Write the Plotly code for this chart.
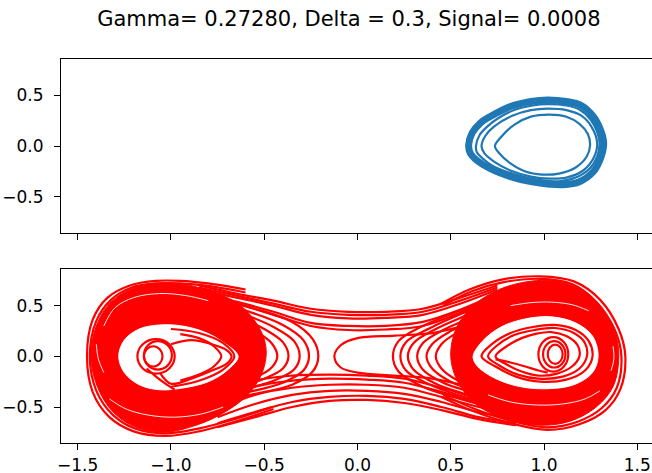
import plotly.graph_objects as go

TITLE = "Gamma= 0.27280, Delta = 0.3, Signal= 0.0008"
X_TICKS = [-1.5, -1.0, -0.5, 0.0, 0.5, 1.0, 1.5]
X_TICK_TEXT = ["\u22121.5", "\u22121.0", "\u22120.5", "0.0", "0.5", "1.0", "1.5"]
Y_TICKS = [-0.5, 0.0, 0.5]
Y_TICK_TEXT = ["\u22120.5", "0.0", "0.5"]

# ---------------- top panel (blue, single well) ----------------
blue_band_x = [0.596, 0.615, 0.66, 0.71, 0.82, 0.93, 1.02, 1.12, 1.20, 1.265, 1.305, 1.32, 1.305, 1.265, 1.19, 1.10, 1.03, 0.93, 0.82, 0.71, 0.64, 0.605, 0.596]
blue_band_y = [0.01, 0.13, 0.23, 0.29, 0.39, 0.44, 0.455, 0.44, 0.40, 0.29, 0.15, 0.03, -0.11, -0.25, -0.35, -0.38, -0.375, -0.35, -0.30, -0.22, -0.14, -0.07, 0.01]
blue_edge_x = [0.635, 0.655, 0.70, 0.75, 0.84, 0.94, 1.02, 1.12, 1.19, 1.25, 1.285, 1.298, 1.285, 1.245, 1.17, 1.09, 1.03, 0.93, 0.83, 0.73, 0.67, 0.64, 0.635]
blue_edge_y = [0.0, 0.11, 0.20, 0.27, 0.355, 0.40, 0.413, 0.40, 0.36, 0.26, 0.14, 0.02, -0.10, -0.22, -0.31, -0.345, -0.345, -0.32, -0.27, -0.20, -0.12, -0.06, 0.0]
blue_mid_x = [0.665, 0.685, 0.73, 0.83, 0.93, 1.02, 1.12, 1.20, 1.255, 1.285, 1.265, 1.21, 1.12, 1.03, 0.93, 0.82, 0.73, 0.68, 0.665]
blue_mid_y = [0.0, 0.10, 0.19, 0.30, 0.355, 0.37, 0.355, 0.30, 0.19, 0.03, -0.12, -0.24, -0.31, -0.32, -0.30, -0.24, -0.15, -0.07, 0.0]
blue_inner_x = [0.737, 0.77, 0.84, 0.93, 1.03, 1.12, 1.19, 1.235, 1.247, 1.23, 1.17, 1.08, 0.99, 0.90, 0.82, 0.76, 0.737]
blue_inner_y = [0.0, 0.09, 0.21, 0.29, 0.31, 0.29, 0.22, 0.12, 0.01, -0.10, -0.21, -0.27, -0.28, -0.25, -0.17, -0.07, 0.0]

# ---------------- bottom panel (red, double well) ----------------
# upper channel crossings (shared x positions)
upper_x = [-0.85, -0.65, -0.45, -0.25, -0.05, 0.15, 0.35, 0.55, 0.75]
upper_y = [
    [0.70, 0.62, 0.55, 0.47, 0.44, 0.44, 0.47, 0.58, 0.70],
    [0.68, 0.60, 0.52, 0.44, 0.41, 0.41, 0.44, 0.55, 0.68],
    [0.66, 0.58, 0.50, 0.41, 0.375, 0.38, 0.41, 0.52, 0.66],
    [0.62, 0.54, 0.44, 0.33, 0.30, 0.30, 0.34, 0.46, 0.62],
    [0.60, 0.52, 0.41, 0.30, 0.26, 0.265, 0.30, 0.43, 0.60],
]
# lower channel crossings (shared x positions)
lower_x = [0.85, 0.65, 0.45, 0.25, 0.05, -0.15, -0.35, -0.55, -0.75]
lower_y = [
    [-0.68, -0.62, -0.53, -0.46, -0.43, -0.44, -0.50, -0.60, -0.70],
    [-0.66, -0.60, -0.50, -0.42, -0.39, -0.40, -0.45, -0.55, -0.66],
    [-0.62, -0.55, -0.45, -0.37, -0.34, -0.34, -0.38, -0.47, -0.60],
    [-0.58, -0.50, -0.40, -0.31, -0.28, -0.28, -0.31, -0.38, -0.52],
    [-0.54, -0.46, -0.35, -0.26, -0.23, -0.22, -0.24, -0.30, -0.44],
    [-0.50, -0.42, -0.31, -0.22, -0.19, -0.18, -0.19, -0.24, -0.38],
]
# turning arcs right of the left well
left_turn_x = [
    [-0.75, -0.55, -0.35, -0.24, -0.21, -0.24, -0.35, -0.55, -0.75],
    [-0.75, -0.58, -0.40, -0.29, -0.26, -0.29, -0.40, -0.58, -0.75],
    [-0.75, -0.60, -0.45, -0.34, -0.31, -0.34, -0.45, -0.60, -0.75],
    [-0.78, -0.64, -0.50, -0.40, -0.37, -0.40, -0.50, -0.64, -0.78],
    [-0.80, -0.68, -0.55, -0.46, -0.43, -0.46, -0.55, -0.68, -0.80],
]
left_turn_y = [
    [0.56, 0.47, 0.34, 0.17, 0.0, -0.15, -0.28, -0.37, -0.45],
    [0.53, 0.44, 0.31, 0.16, 0.0, -0.14, -0.26, -0.35, -0.42],
    [0.50, 0.41, 0.29, 0.15, 0.0, -0.13, -0.24, -0.32, -0.40],
    [0.48, 0.39, 0.27, 0.14, 0.0, -0.12, -0.22, -0.30, -0.38],
    [0.45, 0.36, 0.25, 0.13, 0.0, -0.11, -0.21, -0.28, -0.36],
]
# turning arcs left of the right well
right_turn_x = [
    [0.75, 0.55, 0.35, 0.22, 0.19, 0.22, 0.35, 0.55, 0.75],
    [0.75, 0.57, 0.39, 0.26, 0.23, 0.26, 0.39, 0.57, 0.75],
    [0.75, 0.59, 0.42, 0.30, 0.27, 0.30, 0.42, 0.59, 0.75],
    [0.76, 0.62, 0.46, 0.35, 0.32, 0.35, 0.46, 0.62, 0.76],
    [0.78, 0.65, 0.50, 0.40, 0.37, 0.40, 0.50, 0.65, 0.78],
    [0.80, 0.68, 0.54, 0.45, 0.42, 0.45, 0.54, 0.68, 0.80],
]
right_turn_y = [
    [0.58, 0.45, 0.30, 0.15, 0.0, -0.15, -0.30, -0.42, -0.52],
    [0.56, 0.43, 0.28, 0.14, 0.0, -0.14, -0.28, -0.40, -0.50],
    [0.54, 0.41, 0.27, 0.13, 0.0, -0.13, -0.27, -0.38, -0.48],
    [0.52, 0.39, 0.26, 0.13, 0.0, -0.13, -0.26, -0.36, -0.46],
    [0.50, 0.38, 0.25, 0.12, 0.0, -0.12, -0.25, -0.35, -0.44],
    [0.48, 0.36, 0.24, 0.12, 0.0, -0.12, -0.24, -0.33, -0.42],
]
central_turn_x = [0.60, 0.40, 0.20, 0.0, -0.09, -0.124, -0.09, 0.0, 0.20, 0.40, 0.60]
central_turn_y = [0.32, 0.23, 0.205, 0.18, 0.11, 0.0, -0.11, -0.16, -0.19, -0.22, -0.30]

# outermost arcs of each well
left_outer_x = [
    [-0.60, -0.80, -0.95, -1.08, -1.22, -1.34, -1.42, -1.45, -1.42, -1.33, -1.20, -1.03, -0.85, -0.65, -0.45],
    [-0.60, -0.80, -0.95, -1.08, -1.21, -1.32, -1.40, -1.435, -1.40, -1.31, -1.19, -1.03, -0.86, -0.66, -0.46],
]
left_outer_y = [
    [0.66, 0.72, 0.745, 0.745, 0.70, 0.58, 0.36, 0.0, -0.35, -0.60, -0.74, -0.785, -0.74, -0.64, -0.52],
    [0.63, 0.695, 0.72, 0.72, 0.68, 0.56, 0.35, 0.0, -0.34, -0.58, -0.715, -0.76, -0.715, -0.62, -0.50],
]
right_outer_x = [
    [0.45, 0.60, 0.78, 0.98, 1.16, 1.30, 1.40, 1.436, 1.41, 1.33, 1.19, 1.02, 0.82, 0.62, 0.45],
    [0.46, 0.61, 0.79, 0.98, 1.15, 1.28, 1.38, 1.415, 1.39, 1.31, 1.18, 1.02, 0.83, 0.63, 0.46],
]
right_outer_y = [
    [0.52, 0.66, 0.76, 0.79, 0.74, 0.56, 0.27, 0.0, -0.32, -0.53, -0.67, -0.725, -0.66, -0.54, -0.40],
    [0.50, 0.64, 0.735, 0.765, 0.715, 0.54, 0.26, 0.0, -0.31, -0.51, -0.645, -0.70, -0.64, -0.52, -0.38],
]

# dense bands and empty cores
left_band_x = [-1.43, -1.40, -1.33, -1.22, -1.08, -0.93, -0.78, -0.64, -0.55, -0.50, -0.49, -0.52, -0.60, -0.74, -0.90, -1.04, -1.19, -1.31, -1.39, -1.43]
left_band_y = [0.0, 0.30, 0.52, 0.66, 0.72, 0.71, 0.64, 0.52, 0.35, 0.17, 0.0, -0.20, -0.40, -0.58, -0.70, -0.75, -0.70, -0.55, -0.32, 0.0]
left_hole_x = [-1.28, -1.25, -1.17, -1.06, -0.94, -0.82, -0.72, -0.64, -0.70, -0.80, -0.93, -1.06, -1.17, -1.25, -1.28]
left_hole_y = [0.0, 0.16, 0.27, 0.31, 0.30, 0.24, 0.14, 0.0, -0.14, -0.25, -0.31, -0.33, -0.28, -0.16, 0.0]
right_band_x = [0.50, 0.53, 0.62, 0.76, 0.92, 1.08, 1.22, 1.33, 1.39, 1.40, 1.37, 1.28, 1.14, 0.98, 0.80, 0.64, 0.54, 0.50]
right_band_y = [0.0, 0.28, 0.50, 0.66, 0.74, 0.74, 0.64, 0.42, 0.18, -0.05, -0.30, -0.50, -0.64, -0.68, -0.62, -0.48, -0.26, 0.0]
right_hole_x = [0.62, 0.67, 0.77, 0.90, 1.04, 1.17, 1.26, 1.29, 1.26, 1.16, 1.00, 0.85, 0.72, 0.64, 0.62]
right_hole_y = [0.0, 0.15, 0.29, 0.37, 0.39, 0.33, 0.20, 0.0, -0.16, -0.28, -0.32, -0.29, -0.20, -0.09, 0.0]

# thin empty streaks inside the dense bands
streak_x = [
    [-1.36, -1.30, -1.20, -1.06, -0.92, -0.80],
    [-1.33, -1.24, -1.12, -0.98, -0.84, -0.72],
    [-1.40, -1.39, -1.36],
    [0.82, 0.93, 1.04, 1.15, 1.24],
    [0.70, 0.82, 0.96, 1.10, 1.22, 1.30],
    [1.37, 1.375, 1.36],
]
streak_y = [
    [0.30, 0.48, 0.58, 0.62, 0.60, 0.55],
    [-0.42, -0.52, -0.58, -0.60, -0.57, -0.50],
    [0.12, -0.02, -0.16],
    [0.50, 0.53, 0.535, 0.51, 0.45],
    [-0.38, -0.45, -0.48, -0.47, -0.42, -0.34],
    [0.10, -0.02, -0.14],
]

# small orbits inside the left core
left_ring_x = [
    [-0.98, -1.009, -1.08, -1.151, -1.18, -1.151, -1.08, -1.009, -0.98],
    [-0.995, -1.017, -1.07, -1.123, -1.145, -1.123, -1.07, -1.017, -0.995],
    [-1.045, -1.06, -1.095, -1.13, -1.145, -1.13, -1.095, -1.06, -1.045],
]
left_ring_y = [
    [0.0, 0.12, 0.17, 0.12, 0.0, -0.12, -0.17, -0.12, 0.0],
    [0.01, 0.109, 0.15, 0.109, 0.01, -0.089, -0.13, -0.089, 0.01],
    [0.0, 0.07, 0.10, 0.07, 0.0, -0.07, -0.10, -0.07, 0.0],
]
left_loop_x = [
    [-1.00, -0.89, -0.78, -0.70, -0.675, -0.70, -0.78, -0.89, -1.00, -1.06],
    [-0.95, -0.85, -0.77, -0.73, -0.77, -0.85, -0.95],
    [-1.0, -0.85, -0.72, -0.66, -0.72, -0.85, -1.0],
    [-1.13, -1.08, -1.03, -0.98],
]
left_loop_y = [
    [0.12, 0.16, 0.12, 0.06, 0.0, -0.07, -0.14, -0.22, -0.27, -0.16],
    [0.22, 0.18, 0.10, 0.0, -0.10, -0.18, -0.24],
    [0.27, 0.23, 0.13, 0.0, -0.13, -0.24, -0.30],
    [-0.12, -0.20, -0.27, -0.33],
]
# small orbits inside the right core
right_ring_x = [
    [1.13, 1.107, 1.05, 0.993, 0.97, 0.993, 1.05, 1.107, 1.13],
    [1.115, 1.097, 1.055, 1.013, 0.995, 1.013, 1.055, 1.097, 1.115],
    [1.10, 1.088, 1.06, 1.032, 1.02, 1.032, 1.06, 1.088, 1.10],
]
right_ring_y = [
    [0.02, 0.14, 0.19, 0.14, 0.02, -0.10, -0.15, -0.10, 0.02],
    [0.02, 0.112, 0.15, 0.112, 0.02, -0.072, -0.11, -0.072, 0.02],
    [0.02, 0.087, 0.115, 0.087, 0.02, -0.047, -0.075, -0.047, 0.02],
]
right_loop_x = [
    [0.665, 0.72, 0.82, 0.94, 1.06, 1.17, 1.24, 1.26, 1.22, 1.12, 0.98, 0.85, 0.74, 0.665],
    [0.70, 0.75, 0.84, 0.95, 1.06, 1.16, 1.22, 1.23, 1.19, 1.10, 0.97, 0.86, 0.76, 0.70],
    [0.74, 0.80, 0.88, 0.96, 1.04, 1.12, 1.18, 1.19, 1.15, 1.07, 0.97, 0.88, 0.80, 0.74],
    [0.74, 0.82, 0.90, 0.97, 1.02],
]
right_loop_y = [
    [0.0, 0.12, 0.23, 0.29, 0.31, 0.26, 0.15, 0.0, -0.14, -0.23, -0.25, -0.20, -0.10, 0.0],
    [0.0, 0.11, 0.21, 0.26, 0.28, 0.23, 0.13, 0.0, -0.12, -0.20, -0.22, -0.18, -0.09, 0.0],
    [0.0, 0.10, 0.18, 0.225, 0.24, 0.20, 0.11, 0.0, -0.10, -0.17, -0.19, -0.15, -0.08, 0.0],
    [-0.03, -0.06, -0.10, -0.14, -0.16],
]

BLUE = "#1f77b4"
RED = "#ff0000"
LW = 2.2

fig = go.Figure()


def line(x, y, color, width, axis, fill=None):
    xa, ya = ("x", "y") if axis == 1 else ("x2", "y2")
    kw = dict(x=x, y=y, mode="lines", xaxis=xa, yaxis=ya, showlegend=False,
              hoverinfo="skip",
              line=dict(color=color, width=width, shape="spline", smoothing=1.0))
    if fill:
        kw["fill"] = "toself"
        kw["fillcolor"] = fill
    fig.add_trace(go.Scatter(**kw))


# top panel
line(blue_band_x, blue_band_y, BLUE, 7, 1)
line(blue_edge_x, blue_edge_y, BLUE, LW, 1)
line(blue_mid_x, blue_mid_y, BLUE, LW, 1)
line(blue_inner_x, blue_inner_y, BLUE, LW, 1)

# bottom panel
for ys in upper_y:
    line(upper_x, ys, RED, LW, 2)
for ys in lower_y:
    line(lower_x, ys, RED, LW, 2)
for xs, ys in zip(left_turn_x, left_turn_y):
    line(xs, ys, RED, LW, 2)
for xs, ys in zip(right_turn_x, right_turn_y):
    line(xs, ys, RED, LW, 2)
line(central_turn_x, central_turn_y, RED, LW, 2)
for xs, ys in zip(left_outer_x, left_outer_y):
    line(xs, ys, RED, LW, 2)
for xs, ys in zip(right_outer_x, right_outer_y):
    line(xs, ys, RED, LW, 2)
line(left_band_x, left_band_y, RED, 1, 2, fill=RED)
line(right_band_x, right_band_y, RED, 1, 2, fill=RED)
for xs, ys in zip(streak_x, streak_y):
    line(xs, ys, "white", 0.9, 2)
line(left_hole_x, left_hole_y, "white", 1, 2, fill="white")
line(right_hole_x, right_hole_y, "white", 1, 2, fill="white")
for xs, ys in zip(left_ring_x, left_ring_y):
    line(xs, ys, RED, LW, 2)
for xs, ys in zip(left_loop_x, left_loop_y):
    line(xs, ys, RED, LW, 2)
for xs, ys in zip(right_ring_x, right_ring_y):
    line(xs, ys, RED, LW, 2)
for xs, ys in zip(right_loop_x, right_loop_y):
    line(xs, ys, RED, LW, 2)

FONT = "DejaVu Sans"
XR = [-1.5895, 1.579]
YR = [-0.855, 0.858]

xcommon = dict(range=XR, tickvals=X_TICKS, ticks="outside", ticklen=6, tickwidth=1.2,
               tickcolor="black", showline=True, linecolor="black", linewidth=1.2,
               mirror=True, showgrid=False, zeroline=False, ticklabelstandoff=0,
               automargin=False,
               tickfont=dict(family=FONT, size=17, color="black"))
ycommon = dict(range=YR, tickvals=Y_TICKS, ticktext=Y_TICK_TEXT, ticks="outside", ticklen=6,
               tickwidth=1.2, tickcolor="black", showline=True, linecolor="black",
               linewidth=1.2, mirror=False, showgrid=False, zeroline=False,
               ticklabelstandoff=7, automargin=False,
               tickfont=dict(family=FONT, size=17, color="black"))

fig.update_layout(
    width=652, height=473,
    margin=dict(l=61, r=0, t=59, b=30),
    paper_bgcolor="white", plot_bgcolor="white",
    title=dict(text=TITLE, x=0.487, xref="paper", y=1 - 19 / 473, yref="container",
               yanchor="middle", xanchor="center", automargin=False,
               font=dict(family=FONT, size=21, color="black")),
    xaxis=dict(domain=[0, 1], anchor="y", showticklabels=False, **xcommon),
    yaxis=dict(domain=[0.547, 1.0], anchor="x", **ycommon),
    xaxis2=dict(domain=[0, 1], anchor="y2", ticktext=X_TICK_TEXT, **xcommon),
    yaxis2=dict(domain=[0.0, 0.452], anchor="x2", **ycommon),
)

fig.write_html("out.html")
